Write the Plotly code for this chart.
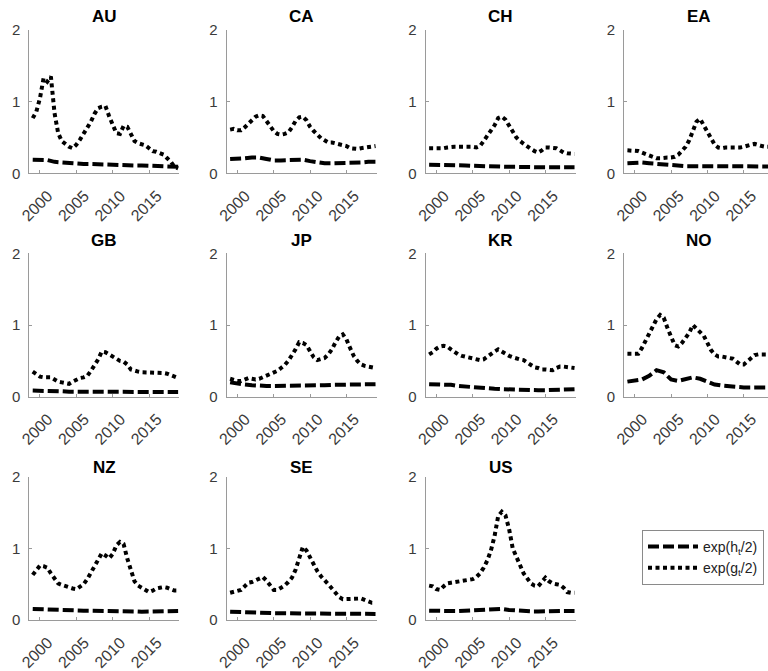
import plotly.graph_objects as go

countries = ["AU", "CA", "CH", "EA", "GB", "JP", "KR", "NO", "NZ", "SE", "US"]

years_g = [1999.0, 1999.5, 2000.0, 2000.5, 2001.0, 2001.5, 2002.0, 2002.5, 2003.0, 2003.5,
           2004.0, 2004.5, 2005.0, 2005.5, 2006.0, 2006.5, 2007.0, 2007.5, 2008.0, 2008.5,
           2009.0, 2009.5, 2010.0, 2010.5, 2011.0, 2011.5, 2012.0, 2012.5, 2013.0, 2013.5,
           2014.0, 2014.5, 2015.0, 2015.5, 2016.0, 2016.5, 2017.0, 2017.5, 2018.0, 2018.5,
           2019.0]
years_h = [1999, 2000, 2001, 2002, 2003, 2004, 2005, 2006, 2007, 2008, 2009,
           2010, 2011, 2012, 2013, 2014, 2015, 2016, 2017, 2018, 2019]

tick_years = [2000, 2005, 2010, 2015]
tick_labels = ["2000", "2005", "2010", "2015"]
y_ticks = [0, 1, 2]
y_labels = ["0", "1", "2"]

# exp(g_t/2), semi-annual
g_AU = [0.77, 0.86, 1.05, 1.33, 1.28, 1.35, 0.84, 0.56, 0.45, 0.41, 0.37, 0.35, 0.40, 0.47,
        0.55, 0.63, 0.72, 0.83, 0.91, 0.93, 0.94, 0.80, 0.67, 0.56, 0.55, 0.66, 0.65, 0.56,
        0.45, 0.42, 0.41, 0.39, 0.35, 0.31, 0.30, 0.28, 0.26, 0.21, 0.16, 0.09, 0.07]
g_CA = [0.61, 0.62, 0.60, 0.60, 0.64, 0.69, 0.75, 0.79, 0.81, 0.80, 0.73, 0.65, 0.59, 0.55,
        0.54, 0.55, 0.57, 0.64, 0.73, 0.78, 0.79, 0.74, 0.65, 0.59, 0.54, 0.49, 0.46, 0.43,
        0.43, 0.42, 0.41, 0.40, 0.38, 0.35, 0.34, 0.34, 0.35, 0.36, 0.36, 0.37, 0.38]
g_CH = [0.35, 0.35, 0.34, 0.34, 0.35, 0.36, 0.37, 0.37, 0.37, 0.37, 0.38, 0.38, 0.37, 0.36,
        0.38, 0.45, 0.52, 0.59, 0.67, 0.77, 0.79, 0.75, 0.67, 0.57, 0.50, 0.45, 0.41, 0.37,
        0.34, 0.31, 0.29, 0.32, 0.36, 0.36, 0.35, 0.35, 0.32, 0.29, 0.28, 0.27, 0.27]
g_EA = [0.32, 0.32, 0.31, 0.31, 0.29, 0.27, 0.24, 0.22, 0.21, 0.21, 0.22, 0.22, 0.22, 0.23,
        0.26, 0.31, 0.37, 0.46, 0.58, 0.72, 0.76, 0.67, 0.56, 0.47, 0.40, 0.36, 0.35, 0.36,
        0.36, 0.35, 0.35, 0.36, 0.37, 0.39, 0.40, 0.41, 0.39, 0.38, 0.37, 0.37, 0.37]
g_GB = [0.35, 0.31, 0.28, 0.27, 0.27, 0.27, 0.24, 0.21, 0.20, 0.19, 0.18, 0.21, 0.24, 0.26,
        0.27, 0.29, 0.36, 0.44, 0.52, 0.63, 0.62, 0.59, 0.56, 0.52, 0.50, 0.49, 0.45, 0.38,
        0.36, 0.35, 0.34, 0.34, 0.34, 0.34, 0.34, 0.34, 0.33, 0.32, 0.30, 0.28, 0.26]
g_JP = [0.25, 0.23, 0.22, 0.22, 0.24, 0.26, 0.25, 0.24, 0.25, 0.27, 0.29, 0.31, 0.33, 0.36,
        0.40, 0.44, 0.50, 0.57, 0.66, 0.76, 0.75, 0.72, 0.62, 0.55, 0.51, 0.52, 0.54, 0.59,
        0.66, 0.76, 0.84, 0.87, 0.80, 0.68, 0.57, 0.50, 0.45, 0.43, 0.42, 0.40, 0.40]
g_KR = [0.59, 0.62, 0.67, 0.70, 0.71, 0.70, 0.66, 0.62, 0.59, 0.57, 0.56, 0.55, 0.54, 0.53,
        0.51, 0.52, 0.56, 0.60, 0.63, 0.66, 0.63, 0.59, 0.57, 0.55, 0.53, 0.52, 0.51, 0.48,
        0.44, 0.41, 0.40, 0.38, 0.38, 0.37, 0.37, 0.40, 0.42, 0.42, 0.41, 0.41, 0.40]
g_NO = [0.60, 0.60, 0.59, 0.60, 0.68, 0.78, 0.87, 0.96, 1.08, 1.14, 1.10, 0.96, 0.82, 0.72,
        0.70, 0.75, 0.82, 0.89, 1.00, 0.95, 0.91, 0.85, 0.75, 0.65, 0.59, 0.56, 0.56, 0.55,
        0.54, 0.53, 0.49, 0.45, 0.45, 0.49, 0.54, 0.58, 0.59, 0.59, 0.59, 0.59, 0.59]
g_NZ = [0.63, 0.70, 0.76, 0.75, 0.73, 0.65, 0.57, 0.51, 0.49, 0.47, 0.46, 0.44, 0.43, 0.46,
        0.50, 0.57, 0.66, 0.76, 0.83, 0.93, 0.90, 0.86, 0.92, 1.04, 1.09, 1.06, 0.86, 0.68,
        0.54, 0.48, 0.45, 0.42, 0.39, 0.41, 0.44, 0.45, 0.46, 0.45, 0.43, 0.41, 0.41]
g_SE = [0.38, 0.39, 0.41, 0.42, 0.47, 0.52, 0.53, 0.55, 0.57, 0.60, 0.55, 0.48, 0.42, 0.42,
        0.45, 0.48, 0.53, 0.59, 0.70, 0.86, 1.02, 0.97, 0.87, 0.77, 0.68, 0.61, 0.56, 0.50,
        0.44, 0.37, 0.32, 0.29, 0.29, 0.29, 0.29, 0.30, 0.30, 0.28, 0.26, 0.24, 0.24]
g_US = [0.48, 0.47, 0.43, 0.42, 0.47, 0.51, 0.52, 0.53, 0.53, 0.54, 0.55, 0.56, 0.57, 0.60,
        0.65, 0.73, 0.83, 0.97, 1.17, 1.45, 1.51, 1.46, 1.27, 1.00, 0.88, 0.74, 0.65, 0.58,
        0.51, 0.48, 0.47, 0.53, 0.59, 0.54, 0.51, 0.50, 0.49, 0.45, 0.39, 0.38, 0.38]

# exp(h_t/2), annual
h_AU = [0.19, 0.19, 0.185, 0.16, 0.15, 0.14, 0.135, 0.13, 0.13, 0.125, 0.12, 0.12, 0.115,
        0.115, 0.11, 0.11, 0.105, 0.10, 0.10, 0.10, 0.09]
h_CA = [0.20, 0.20, 0.21, 0.22, 0.22, 0.20, 0.18, 0.18, 0.18, 0.19, 0.19, 0.17, 0.15,
        0.14, 0.14, 0.14, 0.14, 0.15, 0.15, 0.16, 0.16]
h_CH = [0.12, 0.12, 0.12, 0.12, 0.115, 0.11, 0.105, 0.10, 0.10, 0.10, 0.095, 0.09, 0.09,
        0.085, 0.085, 0.085, 0.085, 0.085, 0.085, 0.085, 0.085]
h_EA = [0.14, 0.145, 0.15, 0.14, 0.13, 0.12, 0.11, 0.105, 0.10, 0.10, 0.10, 0.095, 0.095,
        0.095, 0.095, 0.095, 0.095, 0.095, 0.095, 0.095, 0.095]
h_GB = [0.085, 0.085, 0.08, 0.075, 0.075, 0.07, 0.07, 0.07, 0.07, 0.07, 0.07, 0.07, 0.07,
        0.07, 0.068, 0.068, 0.068, 0.066, 0.066, 0.065, 0.065]
h_JP = [0.20, 0.18, 0.17, 0.16, 0.15, 0.15, 0.15, 0.15, 0.155, 0.155, 0.16, 0.16, 0.16,
        0.16, 0.165, 0.165, 0.165, 0.17, 0.17, 0.175, 0.175]
h_KR = [0.175, 0.175, 0.175, 0.165, 0.15, 0.14, 0.13, 0.12, 0.115, 0.11, 0.105, 0.10, 0.10,
        0.095, 0.095, 0.09, 0.09, 0.095, 0.10, 0.105, 0.105]
h_NO = [0.21, 0.22, 0.24, 0.29, 0.37, 0.34, 0.24, 0.22, 0.24, 0.27, 0.25, 0.21, 0.17,
        0.155, 0.145, 0.14, 0.13, 0.13, 0.13, 0.13, 0.13]
h_NZ = [0.155, 0.15, 0.145, 0.14, 0.135, 0.13, 0.13, 0.13, 0.13, 0.13, 0.13, 0.13, 0.13,
        0.125, 0.12, 0.115, 0.115, 0.12, 0.12, 0.125, 0.125]
h_SE = [0.115, 0.11, 0.11, 0.105, 0.10, 0.10, 0.095, 0.095, 0.09, 0.09, 0.09, 0.09, 0.09,
        0.085, 0.085, 0.085, 0.085, 0.085, 0.085, 0.085, 0.085]
h_US = [0.13, 0.125, 0.125, 0.125, 0.125, 0.13, 0.13, 0.135, 0.14, 0.155, 0.155, 0.14, 0.13,
        0.125, 0.12, 0.12, 0.125, 0.125, 0.125, 0.125, 0.125]

g_series = [g_AU, g_CA, g_CH, g_EA, g_GB, g_JP, g_KR, g_NO, g_NZ, g_SE, g_US]
h_series = [h_AU, h_CA, h_CH, h_EA, h_GB, h_JP, h_KR, h_NO, h_NZ, h_SE, h_US]

# ---- layout geometry (pixels) ----
W, H = 768, 671
col_left = [29.3, 226.7, 425.7, 624.0]
panel_w = 150.0
row_top = [30.0, 253.3, 476.7]
row_bot = [173.3, 396.7, 620.0]
title_y = [16.7, 240.8, 467.5]
px_per_year = 7.27
x_start = 1998.53

AXIS_COL = "#9a9a9a"
XTICK_FONT = dict(family="Liberation Sans, Arial, sans-serif", size=16, color="#3a3a3a")
YTICK_FONT = dict(family="Liberation Sans, Arial, sans-serif", size=15, color="#3a3a3a")

fig = go.Figure()
layout = dict(
    width=W, height=H,
    margin=dict(l=0, r=0, t=0, b=0, autoexpand=False),
    paper_bgcolor="white", plot_bgcolor="white",
    showlegend=True,
    font=dict(family="Liberation Sans, Arial, sans-serif", color="#222"),
    legend=dict(
        x=642 / W, y=1 - 530 / H, xanchor="left", yanchor="top",
        bordercolor="#8a8a8a", borderwidth=1, bgcolor="white",
        font=dict(size=14, color="#222"), tracegroupgap=0, itemwidth=50,
    ),
    annotations=[],
)

for i, name in enumerate(countries):
    r, c = divmod(i, 4)
    n = i + 1
    xs = "" if n == 1 else str(n)
    x0 = col_left[c]
    x1 = min(x0 + panel_w, W)
    x_end = x_start + (x1 - x0) / px_per_year
    layout["xaxis" + xs] = dict(
        domain=[x0 / W, x1 / W], range=[x_start, x_end], anchor="y" + xs,
        tickvals=tick_years, ticktext=tick_labels, tickangle=-45,
        ticks="inside", ticklen=3, tickcolor=AXIS_COL, tickwidth=1,
        ticklabelstandoff=6, ticklabelshift=8,
        showline=True, linecolor=AXIS_COL, linewidth=1, automargin=False,
        showgrid=False, zeroline=False, tickfont=XTICK_FONT, fixedrange=True,
    )
    layout["yaxis" + xs] = dict(
        domain=[1 - row_bot[r] / H, 1 - row_top[r] / H], range=[0, 2], anchor="x" + xs,
        tickvals=y_ticks, ticktext=y_labels,
        ticks="inside", ticklen=3, tickcolor=AXIS_COL, tickwidth=1,
        showline=True, linecolor=AXIS_COL, linewidth=1, ticklabelstandoff=5,
        automargin=False,
        showgrid=False, zeroline=False, tickfont=YTICK_FONT, fixedrange=True,
    )
    layout["annotations"].append(dict(
        text="<b>" + name + "</b>", xref="paper", yref="paper",
        x=(x0 + 75) / W, y=1 - title_y[r] / H, xanchor="center", yanchor="middle",
        showarrow=False, font=dict(size=17, color="black"),
    ))
    fig.add_trace(go.Scatter(
        x=years_h, y=h_series[i], mode="lines", xaxis="x" + xs, yaxis="y" + xs,
        line=dict(color="black", width=4, dash="11px,4px"),
        name="exp(h<sub>t</sub>/2)", legendgroup="h", showlegend=(i == 0),
    ))
    fig.add_trace(go.Scatter(
        x=years_g, y=g_series[i], mode="lines", xaxis="x" + xs, yaxis="y" + xs,
        line=dict(color="black", width=4, dash="4px,3.5px"),
        name="exp(g<sub>t</sub>/2)", legendgroup="g", showlegend=(i == 0),
    ))

fig.update_layout(**layout)
fig.write_html(
    "out.html",
    config={"displayModeBar": False, "staticPlot": True},
    post_script="document.body.style.margin='0px';document.body.style.overflow='hidden';",
)
